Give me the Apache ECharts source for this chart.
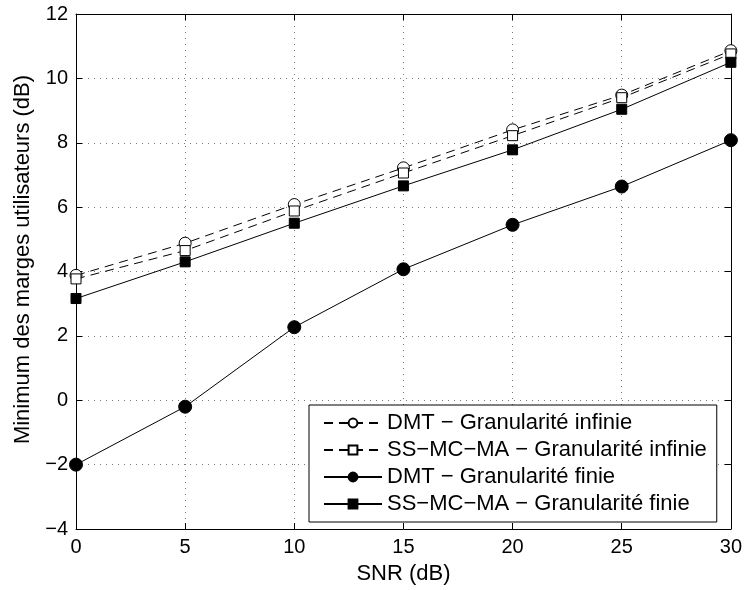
<!DOCTYPE html>
<html><head><meta charset="utf-8">
<script src="https://cdn.jsdelivr.net/npm/echarts@6/dist/echarts.min.js"></script>
<style>html,body{margin:0;padding:0;background:#fff}#c{width:745px;height:590px}</style>
</head><body><div id="c"></div>
<script>
const snr = [0, 5, 10, 15, 20, 25, 30];
const dmtInf = [3.88, 4.88, 6.08, 7.22, 8.4, 9.48, 10.86];
const ssInf = [3.77, 4.65, 5.88, 7.06, 8.22, 9.4, 10.76];
const dmtFin = [-2.0, -0.2, 2.27, 4.07, 5.45, 6.64, 8.08];
const ssFin = [3.16, 4.3, 5.5, 6.66, 7.78, 9.04, 10.5];
const names = ['DMT \u2212 Granularité infinie', 'SS\u2212MC\u2212MA \u2212 Granularité infinie', 'DMT \u2212 Granularité finie', 'SS\u2212MC\u2212MA \u2212 Granularité finie'];

const FONT = "'Liberation Sans', Arial, Helvetica, sans-serif";
const pairs = a => snr.map((x, i) => [x, a[i]]);
const chart = echarts.init(document.getElementById('c'));
const axisCommon = {
  axisLine: {show: true, onZero: false, lineStyle: {color: '#000', width: 1}},
  axisTick: {show: true, inside: true, length: 6, lineStyle: {color: '#000'}},
};
function mk(name, data, symbol, size, filled, dashed) {
  return {
    name, type: 'line', data: pairs(data), symbol, symbolSize: size,
    showSymbol: true,
    lineStyle: {color: '#000', width: 1, type: dashed ? [9, 6] : 'solid'},
    itemStyle: {color: filled ? '#000' : '#fff', borderColor: '#000', borderWidth: 1},
    emphasis: {disabled: true}, animation: false, z: 3
  };
}
const lbl = v => String(v).replace('-', '\u2212');
chart.setOption({
  animation: false,
  backgroundColor: '#fff',
  textStyle: {fontFamily: FONT},
  grid: {left: 76, top: 14, right: 13, bottom: 57, containLabel: false},
  legend: {
    orient: 'vertical', left: 309, top: 405,
    backgroundColor: '#fff', borderColor: '#000', borderWidth: 1,
    padding: [7, 10, 7, 14], itemGap: 5, itemWidth: 58, itemHeight: 11,
    textStyle: {fontFamily: FONT, fontSize: 22, color: '#000'},
    data: names
  },
  xAxis: [{
    type: 'value', min: 0, max: 30, interval: 5,
    name: 'SNR (dB)', nameLocation: 'middle', nameGap: 34,
    nameTextStyle: {fontFamily: FONT, fontSize: 22, color: '#000'},
    axisLabel: {fontFamily: FONT, fontSize: 20, color: '#000', margin: 8, formatter: lbl},
    splitLine: {show: true, lineStyle: {color: '#777', type: [1, 5], width: 1}},
    ...axisCommon
  }, {
    type: 'value', min: 0, max: 30, interval: 5, position: 'top',
    axisLabel: {show: false}, splitLine: {show: false}, ...axisCommon
  }],
  yAxis: [{
    type: 'value', min: -4, max: 12, interval: 2,
    name: 'Minimum des marges utilisateurs (dB)', nameLocation: 'middle', nameGap: 42,
    nameTextStyle: {fontFamily: FONT, fontSize: 22, color: '#000', padding: [0, 0, 0, 24]},
    axisLabel: {fontFamily: FONT, fontSize: 20, color: '#000', margin: 8, formatter: lbl},
    splitLine: {show: true, lineStyle: {color: '#777', type: [1, 5], width: 1}},
    ...axisCommon
  }, {
    type: 'value', min: -4, max: 12, interval: 2, position: 'right',
    axisLabel: {show: false}, splitLine: {show: false}, ...axisCommon
  }],
  series: [
    mk(names[0], dmtInf, 'circle', 12, false, true),
    mk(names[1], ssInf, 'rect', 10, false, true),
    mk(names[2], dmtFin, 'circle', 13, true, false),
    mk(names[3], ssFin, 'rect', 10, true, false)
  ]
});
</script></body></html>
